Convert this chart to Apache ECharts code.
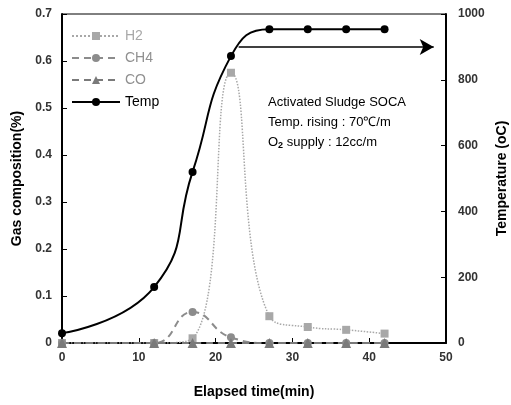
<!DOCTYPE html>
<html><head><meta charset="utf-8">
<script src="https://cdn.jsdelivr.net/npm/echarts@6/dist/echarts.min.js"></script>
<style>html,body{margin:0;padding:0;background:#fff}#c{width:511px;height:405px}</style>
</head><body><div id="c"></div>
<script>
const time = [0, 12, 17, 22, 27, 32, 37, 42];
const h2 = [0, 0, 0.01, 0.575, 0.057, 0.034, 0.028, 0.02];
const ch4 = [0, 0, 0.066, 0.012, 0, 0, 0, 0];
const co = [0, 0, 0, 0, 0, 0, 0, 0];
const temp = [30, 170, 520, 872, 954, 954, 954, 954];
const arrowX = [23, 48.4];
const arrowY = [900, 900];
const leftTicks = ['0', '0.1', '0.2', '0.3', '0.4', '0.5', '0.6', '0.7'];
const notes = ['Activated Sludge SOCA', 'Temp. rising : 70\u2103/m', 'O{s|2} supply : 12cc/m'];

const pair = (xs, ys) => xs.map((x, i) => [x, ys[i]]);
const font = 'Arial, "Liberation Sans", sans-serif';
const chart = echarts.init(document.getElementById('c'));
chart.setOption({
  animation: false,
  grid: { left: 62, right: 65, top: 14, bottom: 62, show: true, borderColor: '#000', borderWidth: 1,
    outerBoundsMode: 'none', containLabel: false },
  legend: {
    orient: 'vertical', left: 66, top: 24, itemWidth: 48, itemHeight: 10, itemGap: 8,
    textStyle: { fontFamily: font, fontSize: 14 },
    data: [
      { name: 'H2', textStyle: { color: '#a8a8a8' } },
      { name: 'CH4', textStyle: { color: '#909090' } },
      { name: 'CO', textStyle: { color: '#909090' } },
      { name: 'Temp', textStyle: { color: '#000' } }
    ]
  },
  xAxis: {
    type: 'value', min: 0, max: 50, interval: 10,
    name: 'Elapsed time(min)', nameLocation: 'middle', nameGap: 42,
    nameTextStyle: { fontFamily: font, fontSize: 14, fontWeight: 'bold', color: '#000' },
    axisLine: { lineStyle: { color: '#000', width: 2 } },
    axisTick: { inside: true, length: 5, lineStyle: { color: '#000' } },
    axisLabel: { fontFamily: font, fontSize: 12, fontWeight: 'bold', color: '#333', margin: 9 },
    splitLine: { show: false }
  },
  yAxis: [
    {
      type: 'value', min: 0, max: 0.7, interval: 0.1,
      name: 'Gas composition(%)', nameLocation: 'middle', nameGap: 35,
      nameTextStyle: { fontFamily: font, fontSize: 14, fontWeight: 'bold', color: '#000' },
      axisLine: { show: true, lineStyle: { color: '#000', width: 2 } },
      axisTick: { show: true, inside: true, length: 5, lineStyle: { color: '#000' } },
      axisLabel: { fontFamily: font, fontSize: 12, fontWeight: 'bold', color: '#333', margin: 10,
        formatter: (v) => leftTicks[Math.round(v * 10)] },
      splitLine: { show: false }
    },
    {
      type: 'value', min: 0, max: 1000, interval: 200,
      name: 'Temperature (oC)', nameLocation: 'middle', nameGap: 46, nameRotate: 90,
      nameTextStyle: { fontFamily: font, fontSize: 14, fontWeight: 'bold', color: '#000' },
      axisLine: { show: true, lineStyle: { color: '#000', width: 2 } },
      axisTick: { show: true, inside: true, length: 5, lineStyle: { color: '#000' } },
      axisLabel: { fontFamily: font, fontSize: 12, fontWeight: 'bold', color: '#333', margin: 12,
        formatter: (v) => String(v) },
      splitLine: { show: false }
    }
  ],
  series: [
    { name: 'H2', type: 'line', smooth: true, data: pair(time, h2), symbol: 'rect', symbolSize: 8,
      itemStyle: { color: '#a8a8a8' }, lineStyle: { color: '#a8a8a8', width: 1.5, type: 'dotted' }, z: 2 },
    { name: 'CH4', type: 'line', smooth: true, data: pair(time, ch4), symbol: 'circle', symbolSize: 8,
      itemStyle: { color: '#8c8c8c' }, lineStyle: { color: '#8c8c8c', width: 2, type: [7, 5] }, z: 3 },
    { name: 'CO', type: 'line', smooth: true, data: pair(time, co), symbol: 'triangle', symbolSize: 10,
      itemStyle: { color: '#7a7a7a' }, lineStyle: { color: '#7a7a7a', width: 2, type: [7, 5] }, z: 3 },
    { name: 'Temp', type: 'line', smooth: true, yAxisIndex: 1, data: pair(time, temp), symbol: 'circle', symbolSize: 8,
      itemStyle: { color: '#000' }, lineStyle: { color: '#000', width: 2 }, z: 5,
      markLine: {
        silent: true, symbol: ['none', 'arrow'], symbolSize: [12, 14],
        label: { show: false },
        lineStyle: { color: '#000', width: 1.5, type: 'solid' },
        data: [[{ coord: [arrowX[0], arrowY[0]] }, { coord: [arrowX[1], arrowY[1]] }]]
      }
    }
  ],
  graphic: [
    { type: 'text', left: 268, top: 96, style: { text: notes[0], fontFamily: font, fontSize: 13, fill: '#000' } },
    { type: 'text', left: 268, top: 116, style: { text: notes[1], fontFamily: font, fontSize: 13, fill: '#000' } },
    { type: 'text', left: 268, top: 136, style: { text: notes[2], fontFamily: font, fontSize: 13, fill: '#000',
      rich: { s: { fontSize: 9, fontWeight: 'bold', verticalAlign: 'bottom', padding: [6, 0, 0, 0] } } } }
  ]
});
</script></body></html>
